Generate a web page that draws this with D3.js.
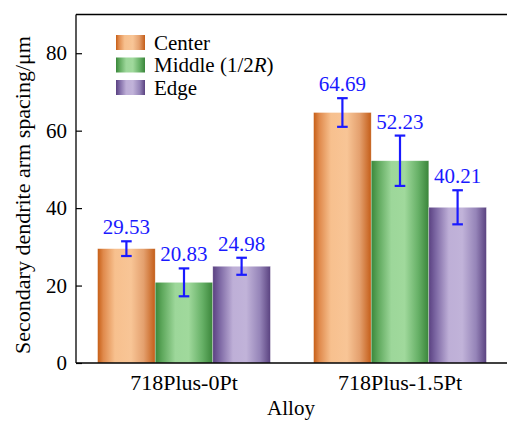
<!DOCTYPE html>
<html>
<head>
<meta charset="utf-8">
<script src="https://cdn.jsdelivr.net/npm/d3@7"></script>
<style>
  html, body { margin: 0; padding: 0; background: #fff; }
  svg { display: block; }
</style>
</head>
<body>
<svg id="chart" width="507" height="421" font-family="'Liberation Serif', Tinos, 'Times New Roman', Times, 'Nimbus Roman', 'DejaVu Serif', serif"></svg>
<script>
// Secondary dendrite arm spacing by alloy and sampling position
const categories = ["718Plus-0Pt", "718Plus-1.5Pt"];
const seriesKeys = ["center", "middle", "edge"];
const centerValues = [29.53, 64.69];
const centerErrors = [1.9, 3.7];
const middleValues = [20.83, 52.23];
const middleErrors = [3.6, 6.5];
const edgeValues = [24.98, 40.21];
const edgeErrors = [2.2, 4.4];
const yTicks = [0, 20, 40, 60, 80];

const series = [
  { key: "center", values: centerValues, errors: centerErrors },
  { key: "middle", values: middleValues, errors: middleErrors },
  { key: "edge",   values: edgeValues,   errors: edgeErrors }
];

const serif = "'Liberation Serif', Tinos, 'Times New Roman', Times, 'Nimbus Roman', 'DejaVu Serif', serif";
const svg = d3.select("#chart");
const plotLeft = 76, plotRight = 508, plotTop = 14.5, plotBottom = 363;

const x0 = d3.scaleBand().domain(categories).range([plotLeft, plotRight])
  .paddingInner(0.2).paddingOuter(0.1);
const x1 = d3.scaleBand().domain(seriesKeys).range([0, x0.bandwidth()]);
const y = d3.scaleLinear().domain([0, 90]).range([plotBottom, plotTop]);

// Cylindrical shading for each series
const shading = {
  center: [["0%", "#c65e16"], ["10%", "#e08a4c"], ["30%", "#f7c08e"], ["58%", "#f8c596"], ["80%", "#e4a06e"], ["100%", "#c45d18"]],
  middle: [["0%", "#3a873a"], ["12%", "#5ea85c"], ["35%", "#9dd79a"], ["58%", "#a0d99c"], ["82%", "#66b066"], ["100%", "#3a853a"]],
  edge:   [["0%", "#5a4181"], ["12%", "#7c67a3"], ["35%", "#beafd7"], ["58%", "#c1b3d9"], ["82%", "#9584b8"], ["100%", "#5a4280"]]
};
const defs = svg.append("defs");
seriesKeys.forEach(k => {
  const g = defs.append("linearGradient").attr("id", "grad-" + k)
    .attr("x1", "0%").attr("x2", "100%").attr("y1", "0%").attr("y2", "0%");
  shading[k].forEach(([o, c]) => g.append("stop").attr("offset", o).attr("stop-color", c));
});

// Bars
const groups = svg.append("g").selectAll("g")
  .data(categories).join("g")
  .attr("transform", d => `translate(${x0(d)},0)`);

series.forEach(s => {
  groups.append("rect")
    .attr("x", x1(s.key))
    .attr("width", x1.bandwidth())
    .attr("y", (d, i) => y(s.values[i]))
    .attr("height", (d, i) => y(0) - y(s.values[i]))
    .attr("fill", `url(#grad-${s.key})`)
    .attr("stroke", "#ffffff")
    .attr("stroke-opacity", 0.5)
    .attr("stroke-width", 0.6);
});

// Error bars and value labels
const blue = "#1a1aff";
series.forEach(s => {
  groups.each(function (d, i) {
    const g = d3.select(this);
    const cx = x1(s.key) + x1.bandwidth() / 2;
    const hi = y(s.values[i] + s.errors[i]);
    const lo = y(s.values[i] - s.errors[i]);
    const cap = 5.3;
    g.append("line").attr("x1", cx).attr("x2", cx).attr("y1", hi).attr("y2", lo)
      .attr("stroke", blue).attr("stroke-width", 2.2);
    [hi, lo].forEach(yy => g.append("line")
      .attr("x1", cx - cap).attr("x2", cx + cap).attr("y1", yy).attr("y2", yy)
      .attr("stroke", blue).attr("stroke-width", 2.2));
    g.append("text").attr("x", cx).attr("y", hi - 7)
      .attr("text-anchor", "middle").attr("font-size", 21).attr("fill", blue)
      .attr("font-family", serif)
      .text(d3.format(".2f")(s.values[i]));
  });
});

// Frame: top border, left axis, bottom axis
svg.append("line").attr("x1", plotLeft).attr("x2", plotRight).attr("y1", plotTop).attr("y2", plotTop)
  .attr("stroke", "#000").attr("stroke-width", 1.3);

const yAxis = svg.append("g").attr("transform", `translate(${plotLeft},0)`)
  .call(d3.axisLeft(y).tickValues(yTicks).tickSizeInner(-6).tickSizeOuter(0).tickPadding(9));
yAxis.attr("font-family", serif).attr("font-size", 21);
yAxis.select(".domain").attr("d", `M0,${plotTop}V${plotBottom}`).attr("stroke-width", 1.3);
yAxis.selectAll(".tick line").attr("stroke-width", 1.2);
yAxis.selectAll(".tick text").attr("fill", "#000");

const xAxis = svg.append("g").attr("transform", `translate(0,${plotBottom})`)
  .call(d3.axisBottom(x0).tickSize(0).tickPadding(11));
xAxis.attr("font-family", serif).attr("font-size", 22);
xAxis.select(".domain").attr("d", `M${plotLeft},0H${plotRight}`).attr("stroke-width", 1.3);
xAxis.selectAll(".tick text").attr("fill", "#000");

// Axis titles
svg.append("text").attr("x", 291).attr("y", 415).attr("text-anchor", "middle")
  .attr("font-family", serif).attr("font-size", 21).text("Alloy");
svg.append("text").attr("transform", "translate(22,195) rotate(-90)")
  .attr("text-anchor", "middle").attr("dominant-baseline", "central")
  .attr("font-family", serif).attr("font-size", 22)
  .text("Secondary dendrite arm spacing/\u03bcm");

// Legend
const legendLabels = [["Center"], ["Middle (1/2", "R", ")"], ["Edge"]];
const legend = svg.append("g").attr("transform", "translate(116,35)");
seriesKeys.forEach((k, i) => {
  const row = legend.append("g").attr("transform", `translate(0,${i * 22.5})`);
  row.append("rect").attr("width", 29).attr("height", 15).attr("fill", `url(#grad-${k})`);
  const t = row.append("text").attr("x", 38).attr("y", 14.5)
    .attr("font-family", serif).attr("font-size", 21);
  legendLabels[i].forEach((part, j) => {
    t.append("tspan").attr("font-style", j === 1 ? "italic" : "normal").text(part);
  });
});
</script>
</body>
</html>
